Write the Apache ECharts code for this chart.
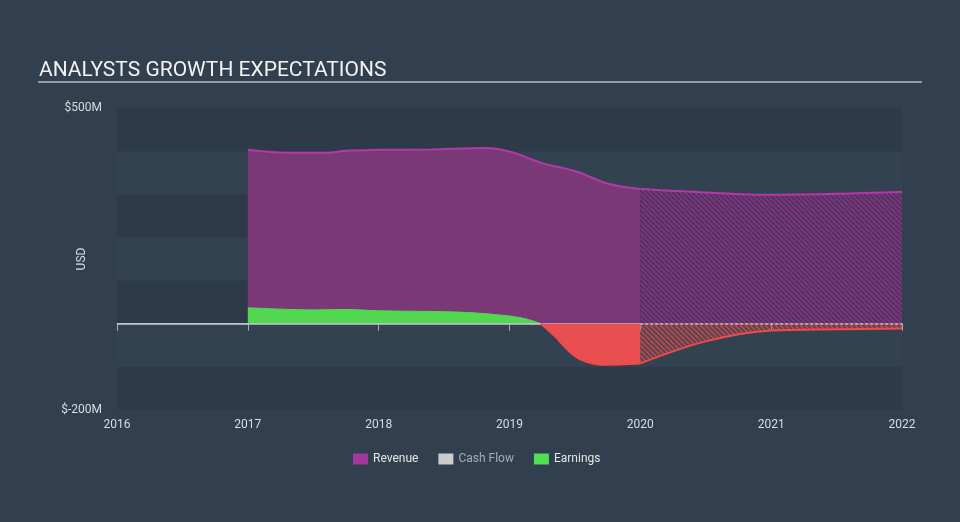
<!DOCTYPE html>
<html><head><meta charset="utf-8">
<script src="https://cdn.jsdelivr.net/npm/echarts@6/dist/echarts.min.js"></script>
<style>html,body{margin:0;padding:0;background:#323f4e}#c{width:960px;height:522px}</style>
</head><body><div id="c"></div>
<script>
// ---- data ----
const yearTicks = [2016, 2017, 2018, 2019, 2020, 2021, 2022];
const revActualX = [2017, 2017.3, 2017.6, 2017.75, 2018, 2018.4, 2018.8, 2019, 2019.25, 2019.5, 2019.75, 2020];
const revActualY = [403, 396, 396, 401, 403, 404, 407, 399, 372, 354, 325, 312];
const revEstX = [2020, 2020.5, 2021, 2021.5, 2022];
const revEstY = [312, 304, 299, 301, 306];
const earnActualX = [2017, 2017.5, 2017.75, 2018, 2018.6, 2018.9, 2019.1, 2019.24, 2019.35, 2019.45, 2019.55, 2019.7, 2020];
const earnActualY = [37, 32, 33, 30, 27, 21, 13, 0, -30, -62, -84, -95, -92];
const earnEstX = [2020, 2020.5, 2021, 2021.5, 2022];
const earnEstY = [-92, -41, -16, -13, -11];
const yTickLabels = {500: '$500M', '-200': '$-200M'};

const pair = (xs, ys) => xs.map((x, i) => [x, ys[i]]);
const earnAll = pair(earnActualX, earnActualY);
const earnPos = earnAll.filter(p => p[1] >= 0);
const earnNeg = earnAll.filter(p => p[1] <= 0);

function hatch(bg, fg, size, lw) {
  const c = document.createElement('canvas');
  c.width = c.height = size;
  const g = c.getContext('2d');
  if (bg) { g.fillStyle = bg; g.fillRect(0, 0, size, size); }
  g.strokeStyle = fg; g.lineWidth = lw;
  g.beginPath();
  for (const k of [-size, 0, size]) { g.moveTo(k, 0); g.lineTo(k + size, size); }
  g.stroke();
  return c;
}

const font = 'Roboto, "Open Sans", sans-serif';
const chart = echarts.init(document.getElementById('c'));
chart.setOption({
  backgroundColor: '#323f4e',
  animation: false,
  textStyle: {fontFamily: font},
  title: {
    text: 'ANALYSTS GROWTH EXPECTATIONS', left: 34, top: 55,
    textStyle: {color: '#f2f2f2', fontSize: 21, fontWeight: 'normal', fontFamily: font}
  },
  graphic: [{type: 'line', shape: {x1: 38, y1: 82, x2: 922, y2: 82}, style: {stroke: '#b7bcc4', lineWidth: 1.5}}],
  legend: {
    left: 348, top: 448, itemWidth: 15, itemHeight: 11, itemGap: 20, icon: 'rect',
    textStyle: {color: '#e6e6e6', fontSize: 12, fontFamily: font},
    data: [
      {name: 'Revenue', itemStyle: {color: '#a4379c'}},
      {name: 'Cash Flow', itemStyle: {color: '#cccccc'}, textStyle: {color: '#a6abb2'}},
      {name: 'Earnings', itemStyle: {color: '#4fe04f'}}
    ],
    selectedMode: false
  },
  grid: {left: 117, right: 58, top: 108, bottom: 112, containLabel: false},
  xAxis: {
    type: 'value', min: 2016, max: 2022, interval: 1,
    axisLine: {lineStyle: {color: '#a3acb8', width: 1}},
    axisTick: {show: true, length: 7, lineStyle: {color: '#a3acb8'}},
    axisLabel: {color: '#d8dce0', fontSize: 12, margin: 9, formatter: v => yearTicks.includes(v) ? String(v) : ''},
    splitLine: {show: false}
  },
  yAxis: {
    type: 'value', min: -200, max: 500, interval: 100,
    name: 'USD', nameLocation: 'middle', nameGap: 29, nameRotate: 90, nameMoveOverlap: false,
    nameTextStyle: {color: '#d8dce0', fontSize: 12},
    axisLine: {show: false}, axisTick: {show: false},
    axisLabel: {color: '#d8dce0', fontSize: 12, margin: 15, formatter: v => yTickLabels[v] || ''},
    splitLine: {show: false},
    splitArea: {show: true, areaStyle: {color: ['#2d3a49', '#334251']}}
  },
  series: [
    {
      name: 'Revenue', type: 'line', z: 2, smooth: 0.35, showSymbol: false,
      data: pair(revActualX, revActualY),
      itemStyle: {color: '#a4379c'},
      lineStyle: {color: '#b23aa6', width: 2},
      areaStyle: {color: '#7b3876', opacity: 1}
    },
    {
      name: 'Revenue', type: 'line', z: 2, smooth: 0.35, showSymbol: false,
      data: pair(revEstX, revEstY),
      itemStyle: {color: '#a4379c'},
      lineStyle: {color: '#b23aa6', width: 2},
      areaStyle: {color: {image: hatch('#76387a', '#4e2c5c', 5, 1.4), repeat: 'repeat'}, opacity: 1}
    },
    {name: 'Cash Flow', type: 'line', data: [], itemStyle: {color: '#cccccc'}},
    {
      name: 'Earnings', type: 'line', z: 3, smooth: 0.35, showSymbol: false,
      data: earnPos,
      itemStyle: {color: '#4fe04f'},
      lineStyle: {color: '#52d850', width: 1},
      areaStyle: {color: '#52d850', opacity: 1}
    },
    {
      name: 'zero', type: 'line', z: 4, data: [], silent: true,
      markLine: {
        silent: true, symbol: 'none', label: {show: false},
        data: [
          [{coord: [2016, 0], lineStyle: {color: '#c9cdd3', width: 1.5, type: 'solid'}}, {coord: [2020, 0]}],
          [{coord: [2020, 0], lineStyle: {color: '#d8d0d8', width: 1.5, type: [3, 2]}}, {coord: [2022, 0]}]
        ]
      }
    },
    {
      name: 'EarningsNeg', type: 'line', z: 5, smooth: 0.35, showSymbol: false,
      data: earnNeg,
      itemStyle: {color: '#ee4f50'},
      lineStyle: {color: '#f04a4a', width: 2},
      areaStyle: {color: '#e94f50', opacity: 1}
    },
    {
      name: 'EarningsEst', type: 'line', z: 5, smooth: 0.35, showSymbol: false,
      data: pair(earnEstX, earnEstY),
      itemStyle: {color: '#ee4f50'},
      lineStyle: {color: '#f04a4a', width: 2},
      areaStyle: {color: {image: hatch('rgba(233,79,80,0.22)', 'rgba(233,79,80,0.75)', 5, 1.4), repeat: 'repeat'}, opacity: 1}
    },
    {
      name: 'labels', type: 'line', z: 10, data: [], silent: true,
      markArea: {
        silent: true,
        itemStyle: {color: 'rgba(0,0,0,0)'},
        label: {
          show: true, position: 'inside', color: '#e6e6e6', fontSize: 12, fontFamily: font,
          backgroundColor: 'rgba(35,22,40,0.78)', padding: [4, 4, 3, 4], borderRadius: 1
        },
        data: [
          [{name: 'Actual', coord: [2017, 0]}, {coord: [2020, 240]}],
          [{name: 'Estimated', coord: [2020, 0]}, {coord: [2022, 240]}]
        ]
      }
    }
  ]
});
</script></body></html>
